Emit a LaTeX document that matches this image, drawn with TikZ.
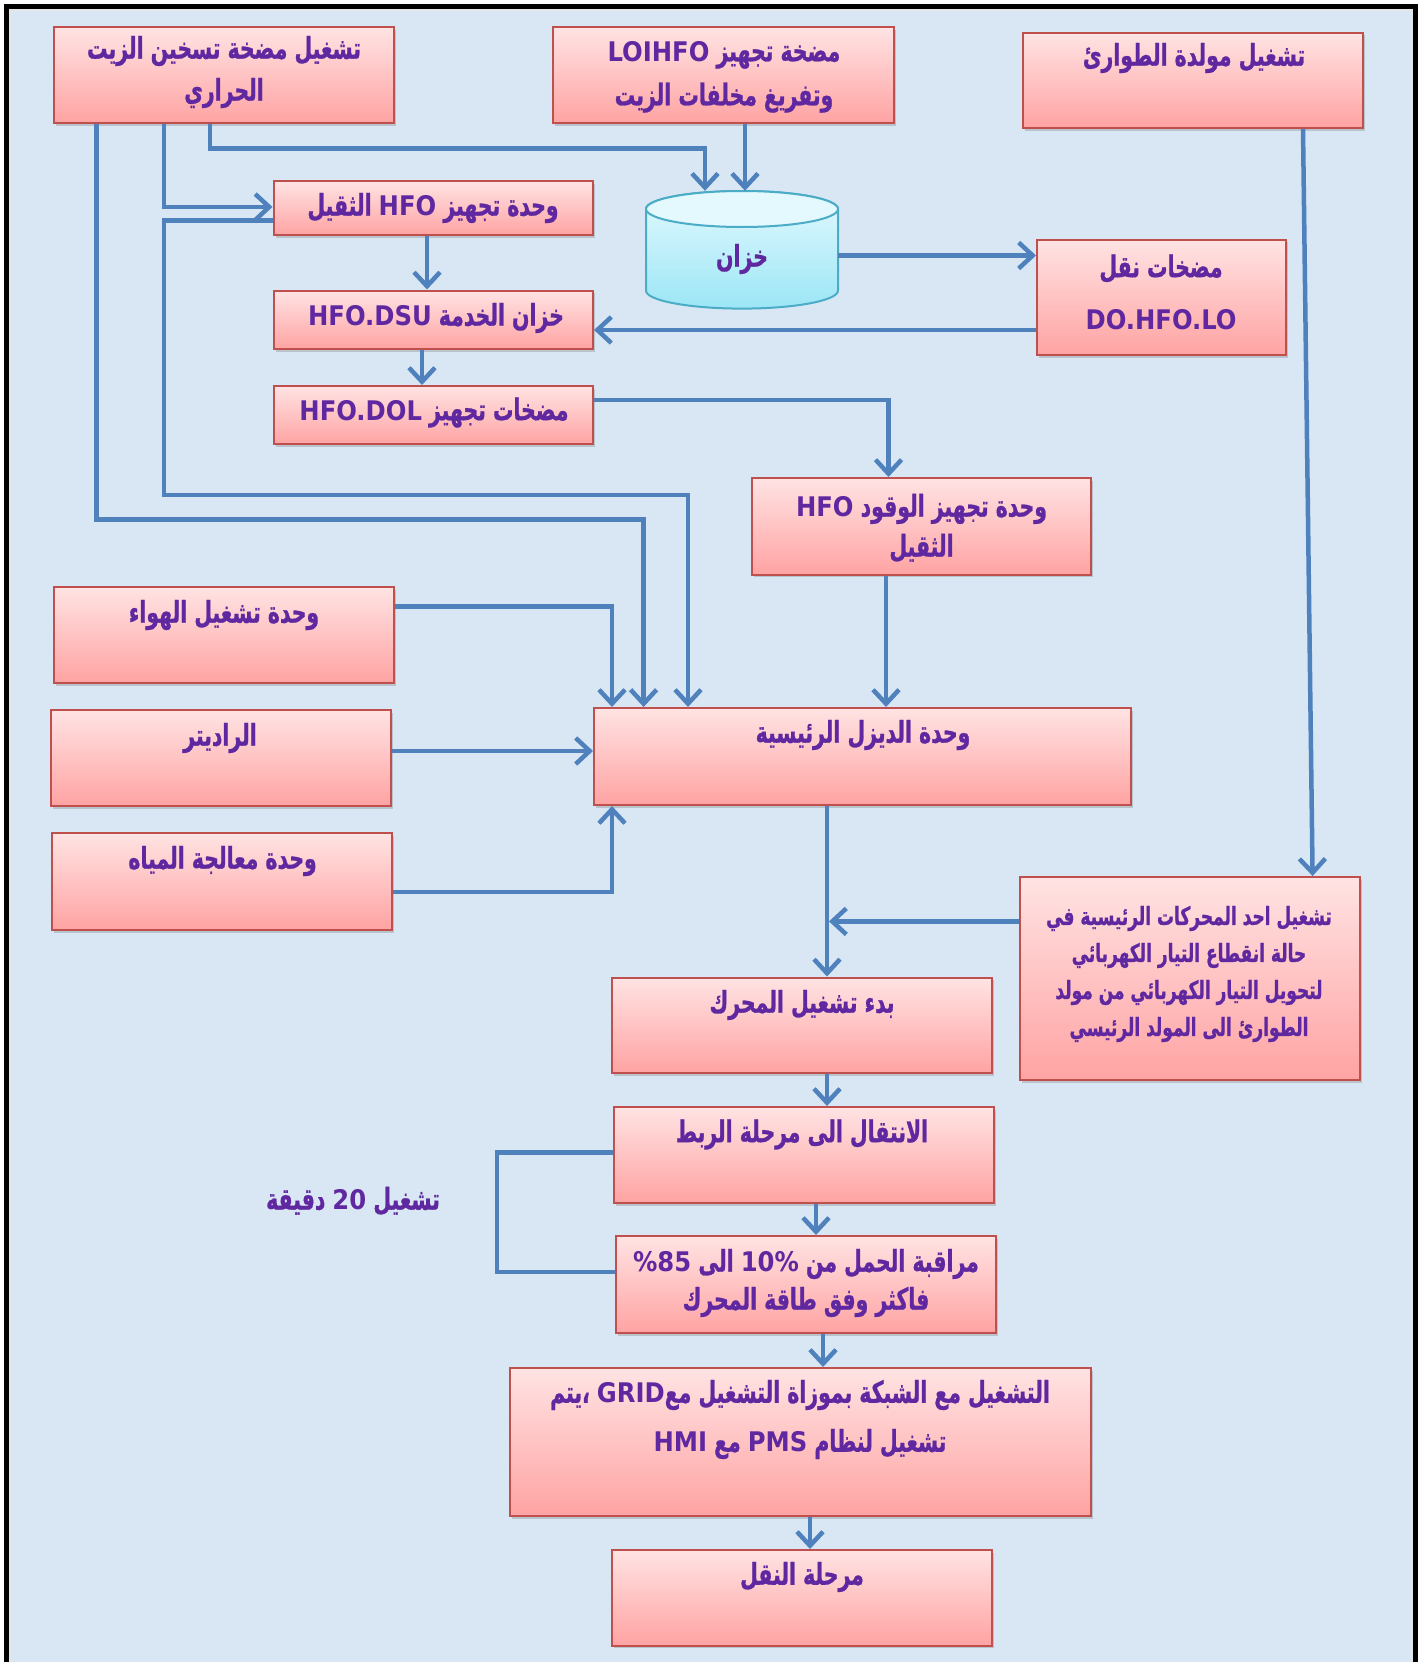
\documentclass[tikz,border=0pt]{standalone}
\usepackage{fontspec}
\usetikzlibrary{arrows.meta,shadows}
\TeXXeTstate=1
\newfontfamily\arabicfont[Script=Arabic, FakeStretch=0.68, FakeBold=0.9]{DejaVu Sans}
\newfontfamily\latinfont[Scale=0.9]{DejaVu Sans Condensed}
\newcommand\ar[1]{\beginR #1\endR}
\newcommand\lt[1]{{\latinfont #1}}
\definecolor{bgblue}{HTML}{D9E7F5}
\definecolor{boxtop}{HTML}{FFE3E3}
\definecolor{boxbot}{HTML}{FFA3A3}
\definecolor{boxline}{HTML}{C0504D}
\definecolor{purp}{HTML}{6028A0}
\definecolor{flow}{HTML}{4F81BD}
\definecolor{cylline}{HTML}{4BACC6}
\definecolor{cyltop}{HTML}{E3F9FE}
\definecolor{cylbot}{HTML}{9CE6F6}
\tikzset{
  box/.style={rectangle, draw=boxline, line width=2pt, top color=boxtop,
    bottom color=boxbot, anchor=north west, inner sep=0pt,
    drop shadow={shadow xshift=2pt, shadow yshift=-2.5pt, opacity=0.35}},
  txt/.style n args={2}{align=center, text=purp, inner sep=0pt,
    font=\arabicfont\bfseries\fontsize{#1}{#2}\selectfont},
  arr/.style={draw=flow, line width=4.5pt,
    -{Straight Barb[length=14pt,width=26pt]}},
  plain/.style={draw=flow, line width=4.5pt},
}
\begin{document}
\begin{tikzpicture}[x=1pt,y=-1pt]
\useasboundingbox (0,0) rectangle (1424,1662);
% page and frame
\fill[white] (0,0) rectangle (1424,1662);
\fill[bgblue] (9,9) rectangle (1413,1662);
\draw[black, line width=5.5pt] (6.5,1662) -- (6.5,6.5) -- (1415.5,6.5) -- (1415.5,1662);
\draw[white!80!gray, line width=1.5pt] (10,1662) -- (10,10) -- (1412,10) -- (1412,1662);

% top row
\node[box, minimum width=340pt, minimum height=95.5pt] (b1) at (53,26.5) {};
\node[txt={30}{42}] (b1t) at (224,72) {\ar{تشغيل مضخة تسخين الزيت}\\\ar{الحراري}};
\node[box, minimum width=341pt, minimum height=95.5pt] (b2) at (552,26.5) {};
\node[txt={30}{44}] (b2t) at (724,77) {\ar{مضخة تجهيز \lt{LOIHFO}}\\\ar{وتفريغ مخلفات الزيت}};
\node[box, minimum width=340pt, minimum height=95pt] (b3) at (1022,32) {};
\node[txt={30}{42}] (b3t) at (1194,58) {\ar{تشغيل مولدة الطوارئ}};

% fuel preparation chain
\node[box, minimum width=319.5pt, minimum height=54pt] (b4) at (272.5,180) {};
\node[txt={30}{42}] (b4t) at (433,208) {\ar{وحدة تجهيز \lt{HFO} الثقيل}};
\node[box, minimum width=319.5pt, minimum height=58.5pt] (b6) at (272.5,289.5) {};
\node[txt={30}{42}] (b6t) at (436,318) {\ar{خزان الخدمة \lt{HFO.DSU}}};
\node[box, minimum width=319.5pt, minimum height=58pt] (b7) at (272.5,385) {};
\node[txt={30}{42}] (b7t) at (434,412.5) {\ar{مضخات تجهيز \lt{HFO.DOL}}};

% storage tank
\path[top color=cyltop, bottom color=cylbot, draw=cylline, line width=2pt]
  (646,209) -- (646,290.6) arc[start angle=180, end angle=360, x radius=96pt, y radius=18pt]
  -- (838,209) arc[start angle=0, end angle=180, x radius=96pt, y radius=18pt] -- cycle;
\draw[cylline, fill=cyltop, line width=2pt] (742,209) ellipse[x radius=96pt, y radius=18pt];
\node[inner sep=0pt, minimum width=192pt, minimum height=117.6pt] (cyl) at (742,249.8) {};
\node[txt={30}{42}] (cylt) at (742,259) {\ar{خزان}};

\node[box, minimum width=249pt, minimum height=115.4pt] (b5) at (1036,238.6) {};
\node[txt={30}{52}] (b5t) at (1161,292) {\ar{مضخات نقل}\\\lt{DO.HFO.LO}};

\node[box, minimum width=339pt, minimum height=96.6pt] (b8) at (751,477) {};
\node[txt={30}{40}] (b8t) at (921.5,528) {\ar{وحدة تجهيز الوقود \lt{HFO}}\\\ar{الثقيل}};

% auxiliary units
\node[box, minimum width=340pt, minimum height=96pt] (b9) at (53,586) {};
\node[txt={30}{42}] (b9t) at (224,615) {\ar{وحدة تشغيل الهواء}};
\node[box, minimum width=340pt, minimum height=96pt] (b10) at (50,709) {};
\node[txt={30}{42}] (b10t) at (220,738) {\ar{الراديتر}};
\node[box, minimum width=340pt, minimum height=97pt] (b11) at (51,832) {};
\node[txt={30}{42}] (b11t) at (222.6,861) {\ar{وحدة معالجة المياه}};

% main diesel unit
\node[box, minimum width=537pt, minimum height=97pt] (b12) at (593,707) {};
\node[txt={30}{42}] (b12t) at (863,735) {\ar{وحدة الديزل الرئيسية}};

\node[box, minimum width=340pt, minimum height=203pt] (b13) at (1019,876) {};
\node[txt={25}{37}] (b13t) at (1189,974) {\ar{تشغيل احد المحركات الرئيسية في}\\\ar{حالة انقطاع التيار الكهربائي}\\\ar{لتحويل التيار الكهربائي من مولد}\\\ar{الطوارئ الى المولد الرئيسي}};

% start-up sequence
\node[box, minimum width=380pt, minimum height=95.5pt] (b14) at (611,976.5) {};
\node[txt={30}{42}] (b14t) at (802,1005) {\ar{بدء تشغيل المحرك}};
\node[box, minimum width=379.5pt, minimum height=96pt] (b15) at (613,1106) {};
\node[txt={30}{42}] (b15t) at (802,1134.5) {\ar{الانتقال الى مرحلة الربط}};
\node[box, minimum width=379.6pt, minimum height=97pt] (b16) at (615,1235) {};
\node[txt={30}{38}] (b16t) at (806,1283) {\ar{مراقبة الحمل من \lt{10\%} الى \lt{\%85}}\\\ar{فاكثر وفق طاقة المحرك}};
\node[box, minimum width=581pt, minimum height=148pt] (b17) at (509,1367) {};
\node[txt={30}{49}] (b17t) at (800,1419.5) {\ar{التشغيل مع الشبكة بموزاة التشغيل مع\lt{GRID} ،يتم}\\\ar{تشغيل لنظام \lt{PMS} مع \lt{HMI}}};
\node[box, minimum width=380pt, minimum height=95.5pt] (b18) at (611,1549) {};
\node[txt={30}{42}] (b18t) at (802,1577) {\ar{مرحلة النقل}};

\node[txt={30}{42}] (note) at (353,1201) {\ar{تشغيل \lt{20} دقيقة}};

% connectors
\draw[arr] (b1.south -| 210,0) |- (705,148.5) -- (cyl.north -| 705,0);
\draw[arr] (b2.south -| 745,0) -- (cyl.north -| 745,0);
\draw[arr] (b1.south -| 164,0) |- (b4.west |- 0,207);
\draw[arr] (b4.west |- 0,220.5) -| (164,495) -| (b12.north -| 688,0);
\draw[arr] (b1.south -| 96.5,0) |- (643.6,519.5) -- (b12.north -| 643.6,0);
\draw[arr] (b9.east |- 0,606.5) -| (b12.north -| 612,0);
\draw[arr] (cyl.east |- 0,255.5) -- (b5.west |- 0,255.5);
\draw[arr] (b5.west |- 0,330) -- (b6.east |- 0,330);
\draw[arr] (b4.south -| 427,0) -- (b6.north -| 427,0);
\draw[arr] (b6.south -| 422,0) -- (b7.north -| 422,0);
\draw[arr] (b7.east |- 0,400) -| (b8.north -| 888.5,0);
\draw[arr] (b8.south -| 886,0) -- (b12.north -| 886,0);
\draw[arr] (b10.east |- 0,751) -- (b12.west |- 0,751);
\draw[arr] (b11.east |- 0,892) -| (b12.south -| 612,0);
\draw[arr] (b3.south -| 1303,0) -- (b13.north -| 1312.6,0);
\draw[arr] (b12.south -| 827,0) -- (b14.north -| 827,0);
\coordinate (join) at (829,921.4);
\draw[arr] (b13.west |- join) -- (join);
\draw[arr] (b14.south -| 827,0) -- (b15.north -| 827,0);
\draw[arr] (b15.south -| 816,0) -- (b16.north -| 816,0);
\draw[plain] (b15.west |- 0,1152.5) -| (497,1272) -- (b16.west |- 0,1272);
\draw[arr] (b16.south -| 823,0) -- (b17.north -| 823,0);
\draw[arr] (b17.south -| 810,0) -- (b18.north -| 810,0);
\end{tikzpicture}
\end{document}
